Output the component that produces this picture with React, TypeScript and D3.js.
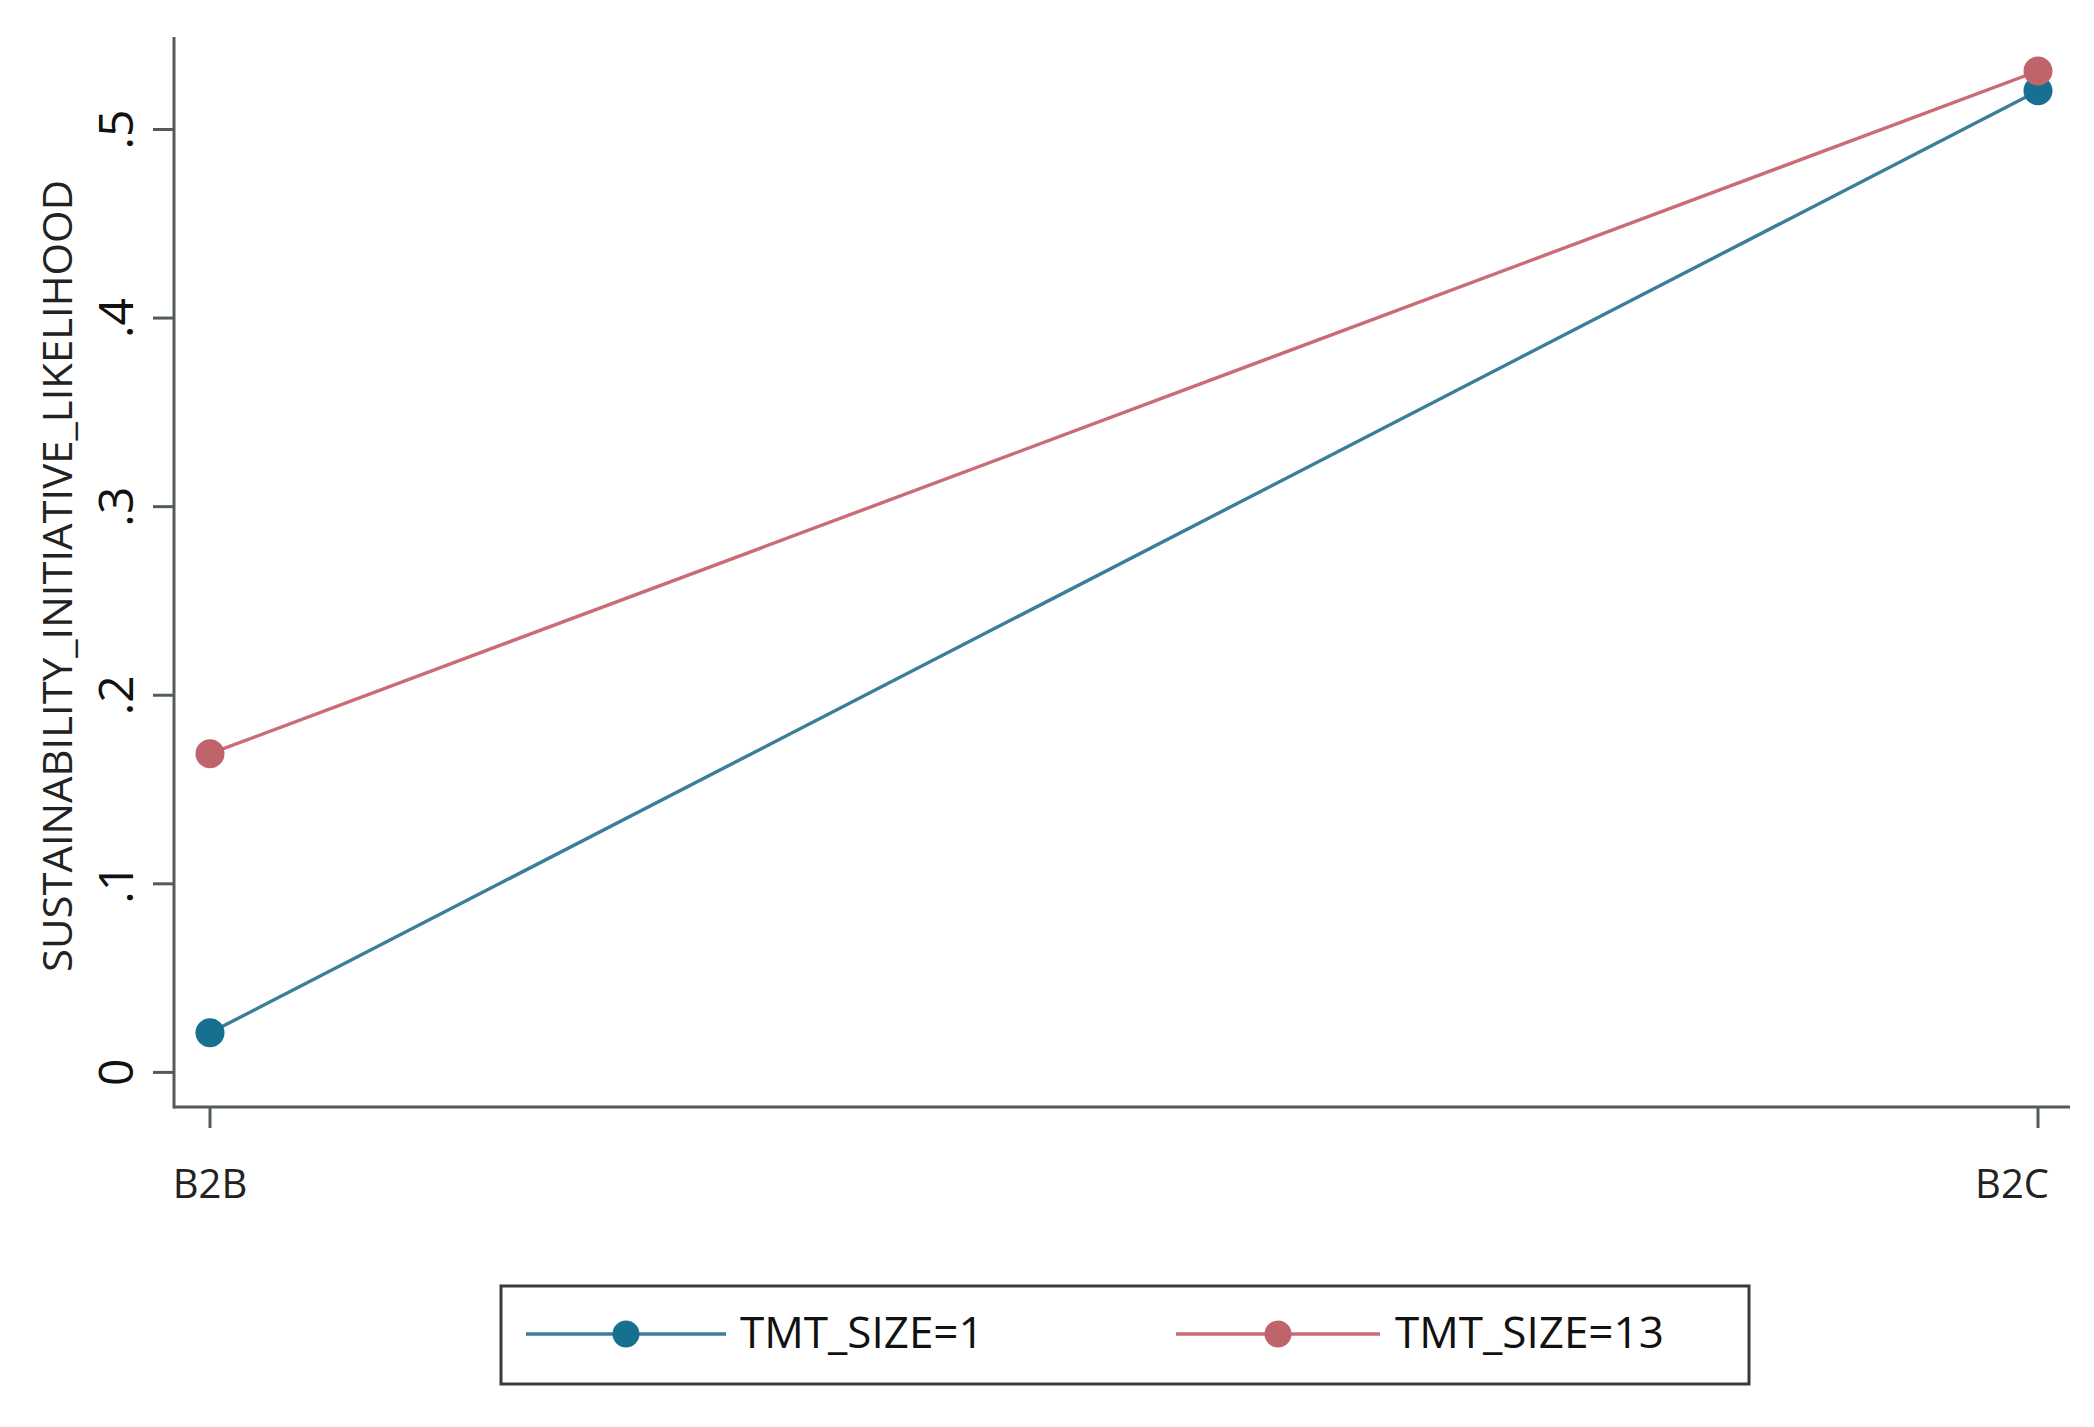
import React, { useEffect, useRef } from "react";
import * as d3 from "d3";

const categories = ["B2B", "B2C"];
const tmtSize1 = [0.021, 0.5205];
const tmtSize13 = [0.169, 0.531];
const seriesNames = ["TMT_SIZE=1", "TMT_SIZE=13"];
const yTicks = [0, 0.1, 0.2, 0.3, 0.4, 0.5];
const yTitle = "SUSTAINABILITY_INITIATIVE_LIKELIHOOD";

const W = 2094;
const H = 1427;
const lineColors = ["#3a7e9c", "#c96c74"];
const markerColors = ["#17708f", "#c0646c"];
const FONT = "'Open Sans', 'DejaVu Sans', sans-serif";

export default function App() {
  const ref = useRef<SVGSVGElement | null>(null);
  useEffect(() => {
    const svg = d3.select(ref.current);
    svg.selectAll("*").remove();

    const axisX = 174;
    const axisTop = 37;
    const axisBottom = 1107;
    const axisRight = 2070;

    const x = d3.scalePoint<string>().domain(categories).range([210, 2038]);
    const y = d3.scaleLinear().domain([0, 0.5]).range([1072.4, 129.5]);
    const axisColor = "#555b5c";

    svg.append("line").attr("x1", axisX).attr("x2", axisX).attr("y1", axisTop).attr("y2", axisBottom + 1.5)
      .attr("stroke", axisColor).attr("stroke-width", 3);
    svg.append("line").attr("x1", axisX).attr("x2", axisRight).attr("y1", axisBottom).attr("y2", axisBottom)
      .attr("stroke", axisColor).attr("stroke-width", 3);

    const fmt = (d: number) => (d === 0 ? "0" : d3.format(".1f")(d).replace(/^0\./, "."));
    const yt = svg.append("g");
    yTicks.forEach((t) => {
      yt.append("line").attr("x1", axisX - 21).attr("x2", axisX).attr("y1", y(t)).attr("y2", y(t))
        .attr("stroke", axisColor).attr("stroke-width", 3);
      yt.append("text").attr("transform", `translate(${133},${y(t)}) rotate(-90)`)
        .attr("text-anchor", "middle").attr("font-family", FONT).attr("font-size", 48)
        .attr("fill", "#111").text(fmt(t));
    });

    categories.forEach((c, i) => {
      svg.append("line").attr("x1", x(c)!).attr("x2", x(c)!).attr("y1", axisBottom).attr("y2", axisBottom + 21)
        .attr("stroke", axisColor).attr("stroke-width", 3);
      const shift = i === categories.length - 1 ? -26 : 0;
      svg.append("text").attr("x", x(c)! + shift).attr("y", 1198).attr("text-anchor", "middle")
        .attr("font-family", FONT).attr("font-size", 40).attr("fill", "#222").text(c);
    });

    svg.append("text").attr("transform", `translate(72,${576}) rotate(-90)`).attr("text-anchor", "middle")
      .attr("font-family", FONT).attr("font-size", 40).attr("textLength", 792).attr("lengthAdjust", "spacingAndGlyphs")
      .attr("fill", "#222").text(yTitle);

    const series = [tmtSize1, tmtSize13];
    const line = d3.line<number>().x((_, i) => x(categories[i])!).y((d) => y(d));
    series.forEach((s, k) => {
      svg.append("path").attr("d", line(s)!).attr("fill", "none").attr("stroke", lineColors[k]).attr("stroke-width", 3.4);
    });
    series.forEach((s, k) => {
      s.forEach((v, i) => {
        svg.append("circle").attr("cx", x(categories[i])!).attr("cy", y(v)).attr("r", 14.5).attr("fill", markerColors[k]);
      });
    });

    const lg = svg.append("g");
    lg.append("rect").attr("x", 501).attr("y", 1286).attr("width", 1248).attr("height", 98)
      .attr("fill", "white").attr("stroke", "#3a3a3a").attr("stroke-width", 3);
    const items = [
      { x1: 526, x2: 726, tx: 740 },
      { x1: 1176, x2: 1380, tx: 1395 },
    ];
    items.forEach((it, k) => {
      const cy = 1334;
      lg.append("line").attr("x1", it.x1).attr("x2", it.x2).attr("y1", cy).attr("y2", cy)
        .attr("stroke", lineColors[k]).attr("stroke-width", 3.4);
      lg.append("circle").attr("cx", (it.x1 + it.x2) / 2).attr("cy", cy).attr("r", 13.5).attr("fill", markerColors[k]);
      lg.append("text").attr("x", it.tx).attr("y", 1348).attr("font-family", FONT).attr("font-size", 44)
        .attr("fill", "#111").text(seriesNames[k]);
    });
  }, []);

  return (
    <svg ref={ref} width={W} height={H} style={{ position: "absolute", left: 0, top: 0, background: "white" }} />
  );
}
